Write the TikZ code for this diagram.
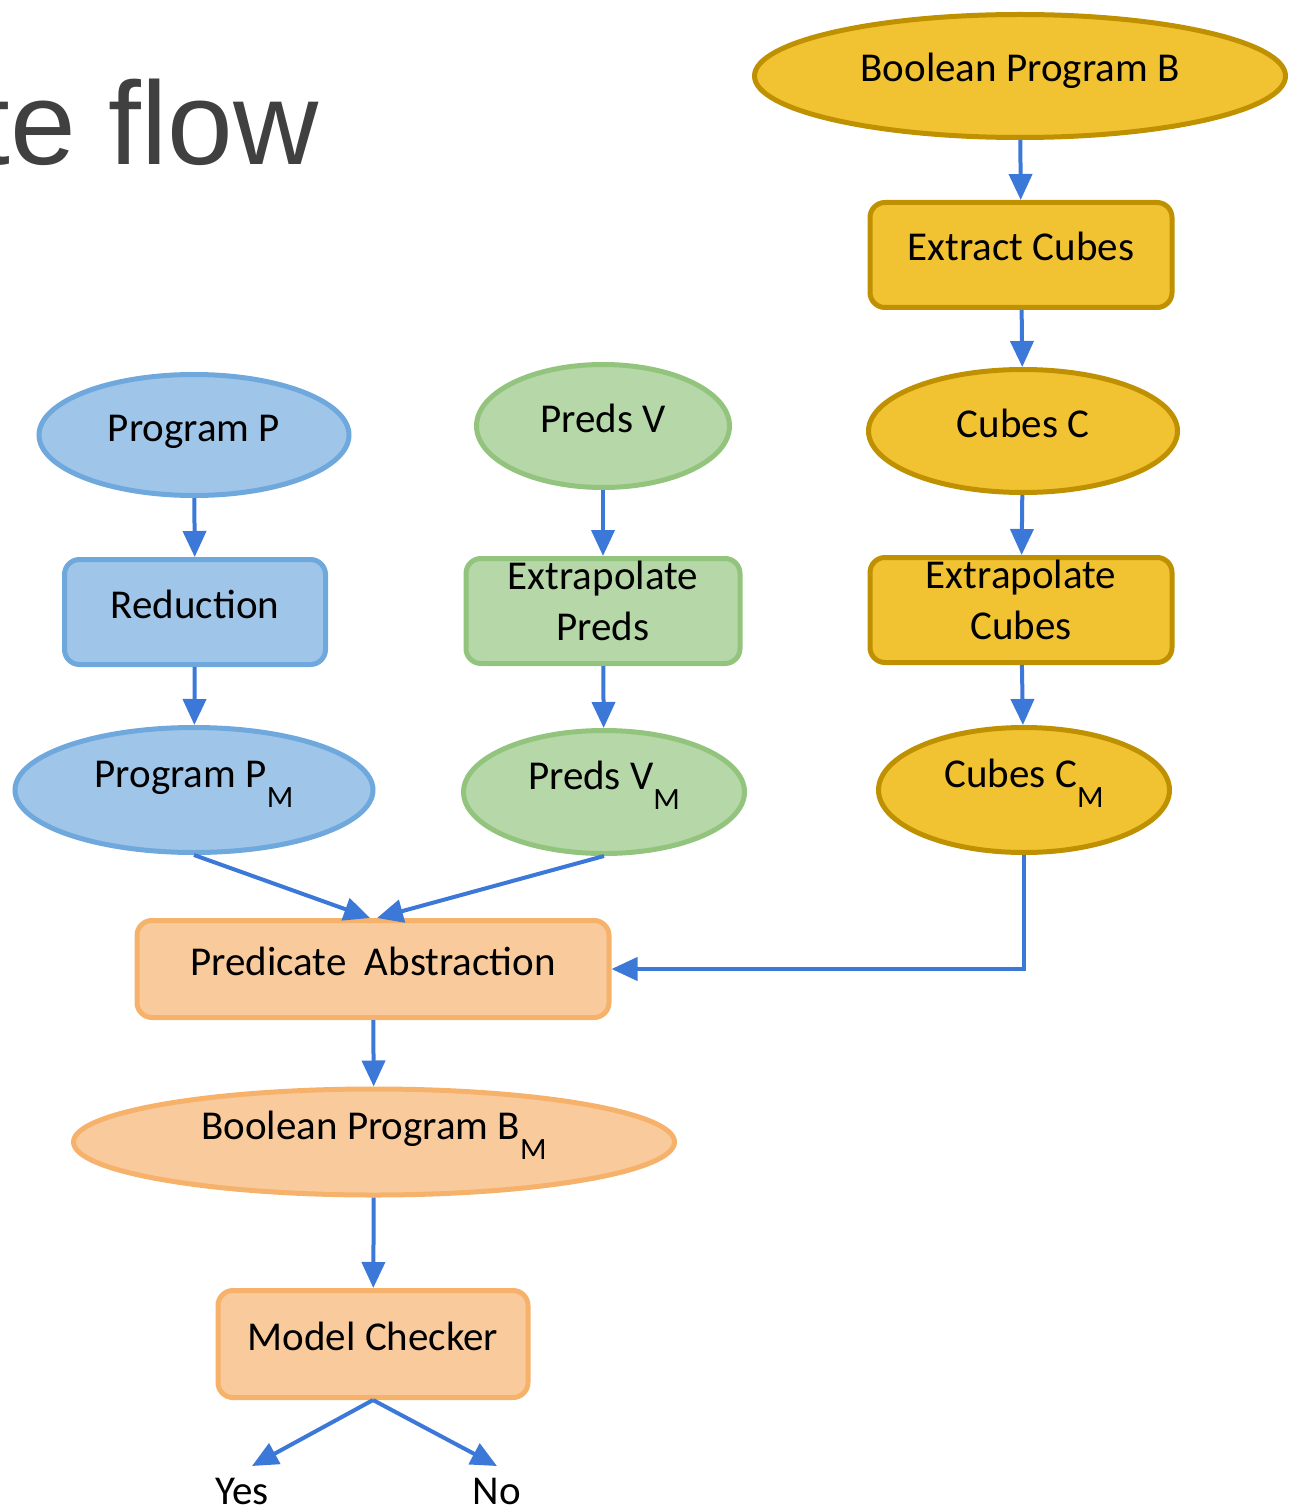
\documentclass[tikz,border=0pt]{standalone}
\usepackage{fontspec}
\setmainfont{Carlito}
\newfontfamily\titlefont{Liberation Sans}
\usetikzlibrary{shapes.geometric,arrows.meta,calc}
\definecolor{goldfill}{HTML}{F1C232}
\definecolor{golddraw}{HTML}{BF9000}
\definecolor{bluefill}{HTML}{9FC5E8}
\definecolor{bluedraw}{HTML}{6FA8DC}
\definecolor{greenfill}{HTML}{B6D7A8}
\definecolor{greendraw}{HTML}{93C47D}
\definecolor{orangefill}{HTML}{F9CB9C}
\definecolor{orangedraw}{HTML}{F6B26B}
\definecolor{arrowblue}{HTML}{3C78D8}
\definecolor{titlegray}{HTML}{404040}
\newcommand{\subM}{\raisebox{-20pt}{\fontsize{31}{31}\selectfont M}}
\begin{document}
\begin{tikzpicture}[x=1pt,y=-1pt,
  every node/.style={font=\fontsize{41}{51}\selectfont, text=black},
  ell/.style={ellipse, draw, line width=5pt, inner sep=0pt},
  rbox/.style={rectangle, rounded corners=15pt, draw, line width=5pt, inner sep=0pt, align=center},
  oneline/.style={text height=30pt, text depth=18pt},
  withsub/.style={text height=30pt, text depth=36pt},
  twoline/.style={text depth=20pt},
  outcome/.style={inner sep=0pt, anchor=base, text depth=0pt},
  gold/.style={fill=goldfill, draw=golddraw},
  blue/.style={fill=bluefill, draw=bluedraw},
  green/.style={fill=greenfill, draw=greendraw},
  orange/.style={fill=orangefill, draw=orangedraw},
  arr/.style={draw=arrowblue, line width=4pt, -{Triangle[length=26pt,width=23pt]}}
]
\useasboundingbox (0,0) rectangle (1290,1511);

% heading, running off the left edge
\node[anchor=base east, inner sep=0pt, text=titlegray, font=\titlefont\fontsize{118}{118}\selectfont]
  (title) at (319,165) {te flow};

% right column: cubes
\node[ell, gold, oneline, minimum width=531pt, minimum height=123pt] (B) at (1020,76) {Boolean Program B};
\node[rbox, gold, oneline, minimum width=302pt, minimum height=105pt] (EC) at (1021,255) {Extract Cubes};
\node[ell, gold, oneline, minimum width=309pt, minimum height=123pt] (C) at (1023,431) {Cubes C};
\node[rbox, gold, twoline, minimum width=302pt, minimum height=105pt] (XC) at (1021,610) {Extrapolate\\Cubes};
\node[ell, gold, withsub, minimum width=291pt, minimum height=125pt] (CM) at (1024,790) {Cubes C\subM};

% left column: program
\node[ell, blue, oneline, minimum width=310pt, minimum height=121pt] (P) at (194,435) {Program P};
\node[rbox, blue, oneline, minimum width=261pt, minimum height=105pt] (R) at (195,612) {Reduction};
\node[ell, blue, withsub, minimum width=358pt, minimum height=125pt] (PM) at (194,790) {Program P\subM};

% middle column: predicates
\node[ell, green, oneline, minimum width=253pt, minimum height=123pt] (V) at (603,426) {Preds V};
\node[rbox, green, twoline, minimum width=274pt, minimum height=105pt] (XP) at (603,611) {Extrapolate\\Preds};
\node[ell, green, withsub, minimum width=281pt, minimum height=123pt] (VM) at (604,792) {Preds V\subM};

% lower chain
\node[rbox, orange, oneline, minimum width=472pt, minimum height=97pt] (PA) at (373,969) {Predicate\ \ Abstraction};
\node[ell, orange, withsub, minimum width=601pt, minimum height=106pt] (BM) at (374,1142) {Boolean Program B\subM};
\node[rbox, orange, oneline, minimum width=310pt, minimum height=107pt] (MC) at (373,1344) {Model Checker};

\node[outcome] (yes) at (242,1504) {Yes};
\node[outcome] (no) at (497,1504) {No};
\coordinate (yestip) at (252,1466);
\coordinate (notip) at (497,1466);

% connectors
\draw[arr] (B) -- (EC);
\draw[arr] (EC) -- (C);
\draw[arr] (C) -- (XC);
\draw[arr] (XC) -- (CM);
\draw[arr] (P) -- (R);
\draw[arr] (R) -- (PM);
\draw[arr] (V) -- (XP);
\draw[arr] (XP) -- (VM);
\draw[arr] (PM.south) -- ([xshift=-3pt]PA.north);
\draw[arr] (VM.south) -- ([xshift=4pt]PA.north);
\draw[arr] (CM.south) |- (PA.east);
\draw[arr] (PA) -- (BM);
\draw[arr] (BM) -- (MC);
\draw[arr] (MC.south) -- (yestip);
\draw[arr] (MC.south) -- (notip);
\end{tikzpicture}
\end{document}
